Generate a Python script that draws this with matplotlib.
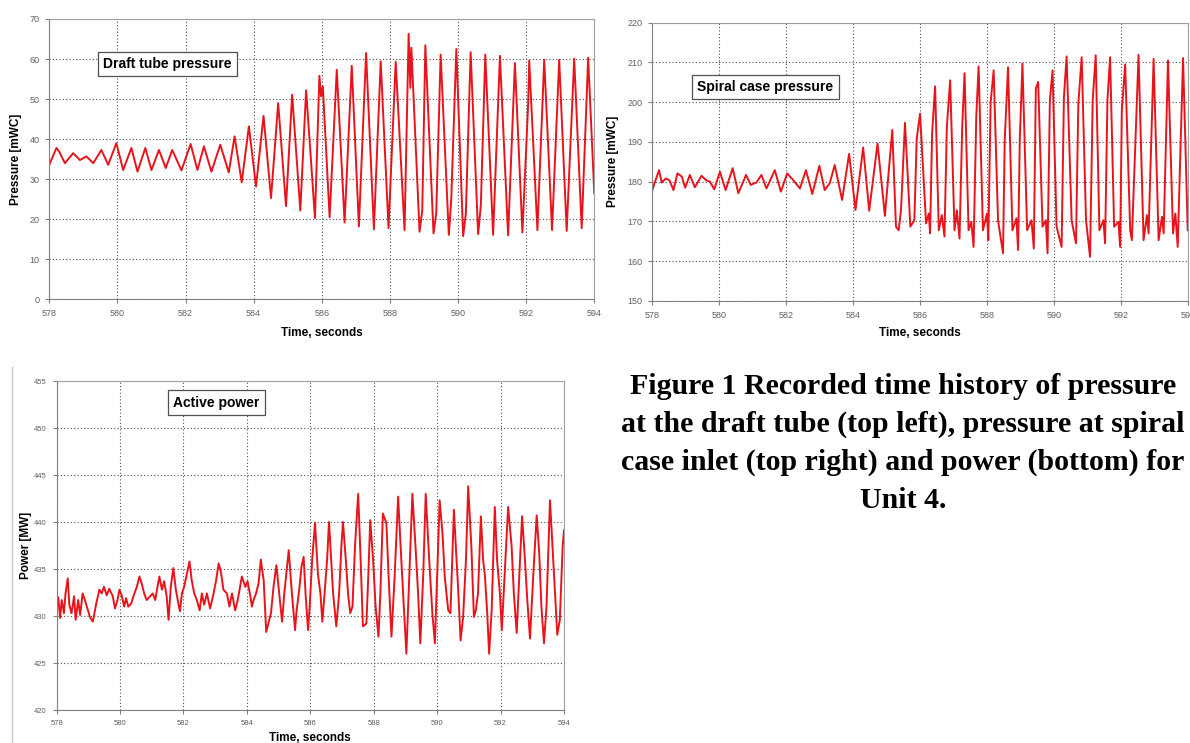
import matplotlib
matplotlib.use('Agg')
import matplotlib.pyplot as plt
from matplotlib.lines import Line2D

plt.rcParams['font.family'] = ['Liberation Sans', 'DejaVu Sans']

# DATA

# Draft tube pressure [mWC]
draft_t = [578.00, 578.21, 578.29, 578.46, 578.70, 578.90, 579.09, 579.29, 579.53, 579.73,
           579.97, 580.17, 580.41, 580.59, 580.82, 581.00, 581.22, 581.42, 581.61, 581.88,
           582.15, 582.35, 582.54, 582.76, 583.02, 583.27, 583.44, 583.65, 583.86, 584.07,
           584.29, 584.51, 584.72, 584.95, 585.13, 585.37, 585.54, 585.80, 585.93, 585.98,
           586.03, 586.23, 586.44, 586.67, 586.88, 587.09, 587.30, 587.53, 587.73, 587.96,
           588.17, 588.43, 588.55, 588.60, 588.63, 588.87, 588.95, 589.04, 589.28, 589.36,
           589.49, 589.73, 589.80, 589.95, 590.15, 590.23, 590.37, 590.59, 590.67, 590.80,
           591.03, 591.23, 591.47, 591.67, 591.89, 592.06, 592.09, 592.33, 592.53, 592.76,
           592.97, 593.19, 593.41, 593.63, 593.82, 594.00]
draft_p = [33.6, 37.8, 36.9, 34.0, 36.5, 34.8, 35.7, 34.0, 37.3, 33.6,
           39.0, 32.3, 37.8, 31.9, 37.8, 32.3, 37.3, 32.8, 37.3, 32.2,
           38.8, 32.3, 38.2, 31.9, 38.6, 31.7, 40.7, 29.2, 43.2, 28.2,
           45.8, 25.3, 49.0, 23.3, 51.1, 22.2, 52.2, 20.3, 55.8, 50.7,
           53.2, 20.5, 57.3, 19.2, 58.3, 18.2, 61.5, 17.5, 59.4, 17.8,
           59.3, 17.3, 66.3, 52.8, 62.8, 16.9, 22.2, 63.4, 16.5, 21.5,
           61.1, 16.1, 24.8, 62.5, 15.8, 21.5, 61.7, 16.3, 23.6, 61.1,
           16.1, 60.8, 16.0, 59.0, 16.7, 49.0, 59.6, 17.3, 59.8, 17.3,
           59.8, 17.1, 60.1, 17.8, 60.3, 26.5]

# Spiral case pressure [mWC]
spiral_t = [578.00, 578.08, 578.20, 578.28, 578.40, 578.51, 578.63, 578.75, 578.88, 578.98,
            579.12, 579.27, 579.47, 579.60, 579.72, 579.85, 580.02, 580.19, 580.40, 580.57,
            580.80, 580.94, 581.11, 581.26, 581.41, 581.66, 581.84, 582.03, 582.21, 582.41,
            582.59, 582.78, 582.99, 583.15, 583.30, 583.45, 583.67, 583.88, 584.07, 584.30,
            584.48, 584.73, 584.95, 585.17, 585.28, 585.36, 585.43, 585.55, 585.71, 585.83,
            585.90, 586.00, 586.18, 586.26, 586.30, 586.36, 586.45, 586.56, 586.65, 586.73,
            586.80, 586.90, 587.03, 587.10, 587.18, 587.26, 587.33, 587.45, 587.53, 587.60,
            587.68, 587.75, 587.88, 588.00, 588.04, 588.11, 588.20, 588.33, 588.48, 588.53,
            588.63, 588.76, 588.88, 588.93, 588.98, 589.06, 589.20, 589.33, 589.40, 589.46,
            589.53, 589.66, 589.76, 589.81, 589.88, 589.96, 590.08, 590.23, 590.30, 590.38,
            590.53, 590.66, 590.73, 590.83, 590.96, 591.08, 591.16, 591.25, 591.36, 591.48,
            591.53, 591.60, 591.68, 591.80, 591.93, 591.98, 592.03, 592.13, 592.28, 592.33,
            592.53, 592.68, 592.78, 592.83, 592.98, 593.13, 593.23, 593.28, 593.41, 593.56,
            593.63, 593.70, 593.86, 594.00]
spiral_p = [177.9, 180.0, 182.9, 179.8, 180.8, 180.4, 177.9, 182.1, 181.3, 178.5,
            181.7, 178.6, 181.5, 180.4, 180.0, 178.1, 182.5, 177.9, 183.4, 177.1,
            181.7, 179.2, 179.8, 181.7, 178.3, 182.9, 177.5, 182.1, 180.4, 178.3,
            182.9, 176.9, 184.0, 177.9, 179.6, 184.2, 175.4, 187.0, 172.9, 188.6,
            172.7, 189.6, 171.4, 193.0, 168.7, 167.8, 172.8, 194.8, 168.7, 170.3,
            190.8, 197.1, 169.5, 172.0, 167.0, 192.1, 204.0, 167.8, 171.6, 166.2,
            193.8, 205.5, 167.8, 172.8, 165.7, 193.8, 207.3, 167.8, 169.9, 163.6,
            196.3, 209.0, 167.8, 172.0, 165.3, 200.0, 208.0, 170.3, 162.0, 190.4,
            208.8, 167.8, 170.8, 162.8, 190.4, 209.7, 167.8, 170.3, 163.2, 203.4,
            205.1, 168.7, 170.3, 162.0, 200.5, 208.0, 168.7, 163.6, 201.3, 211.5,
            170.3, 164.5, 199.6, 211.3, 170.3, 161.1, 200.5, 211.8, 167.8, 170.3,
            164.5, 200.5, 211.3, 168.7, 169.9, 163.6, 197.9, 209.5, 167.8, 165.3,
            211.9, 165.3, 171.6, 167.0, 210.9, 165.3, 171.2, 167.0, 210.5, 167.0,
            172.0, 163.6, 211.1, 167.8]

# Active power [MW]
power_t = [578.00, 578.05, 578.11, 578.16, 578.23, 578.28, 578.35, 578.40, 578.47, 578.55,
           578.60, 578.68, 578.74, 578.82, 578.89, 578.97, 579.05, 579.14, 579.26, 579.35,
           579.42, 579.49, 579.58, 579.66, 579.77, 579.84, 579.92, 579.98, 580.05, 580.13,
           580.19, 580.26, 580.35, 580.42, 580.53, 580.61, 580.68, 580.76, 580.84, 580.95,
           581.03, 581.11, 581.18, 581.24, 581.32, 581.39, 581.47, 581.53, 581.60, 581.68,
           581.76, 581.84, 581.89, 581.95, 582.02, 582.11, 582.19, 582.26, 582.34, 582.42,
           582.51, 582.58, 582.65, 582.74, 582.84, 582.95, 583.03, 583.11, 583.18, 583.26,
           583.37, 583.45, 583.53, 583.63, 583.71, 583.77, 583.84, 583.95, 584.02, 584.11,
           584.16, 584.21, 584.29, 584.37, 584.44, 584.53, 584.61, 584.76, 584.84, 584.93,
           585.02, 585.11, 585.18, 585.32, 585.42, 585.52, 585.56, 585.66, 585.72, 585.79,
           585.85, 585.93, 585.98, 586.06, 586.15, 586.24, 586.32, 586.38, 586.45, 586.53,
           586.59, 586.66, 586.72, 586.82, 586.91, 586.98, 587.03, 587.12, 587.19, 587.26,
           587.33, 587.41, 587.51, 587.58, 587.66, 587.77, 587.84, 587.89, 587.98, 588.06,
           588.15, 588.21, 588.29, 588.40, 588.47, 588.56, 588.66, 588.77, 588.87, 588.96,
           589.03, 589.12, 589.22, 589.33, 589.40, 589.47, 589.56, 589.64, 589.75, 589.85,
           589.93, 590.01, 590.08, 590.17, 590.24, 590.35, 590.42, 590.53, 590.59, 590.66,
           590.74, 590.82, 590.91, 590.98, 591.08, 591.16, 591.22, 591.29, 591.38, 591.45,
           591.51, 591.58, 591.64, 591.72, 591.82, 591.89, 591.98, 592.04, 592.24, 592.35,
           592.42, 592.51, 592.59, 592.68, 592.77, 592.84, 592.93, 593.03, 593.14, 593.22,
           593.29, 593.37, 593.45, 593.56, 593.64, 593.72, 593.79, 593.87, 593.96, 594.00]
power_mw = [430.8, 432.0, 429.8, 431.7, 430.3, 432.4, 434.0, 431.2, 430.3, 432.1,
            429.6, 431.7, 430.1, 432.4, 431.7, 430.8, 429.9, 429.4, 431.5, 432.8,
            432.4, 433.1, 432.2, 432.9, 432.1, 430.8, 431.7, 432.8, 432.2, 431.0,
            431.9, 431.0, 431.3, 432.1, 433.1, 434.2, 433.5, 432.4, 431.7, 432.1,
            432.4, 431.7, 433.1, 434.2, 432.8, 433.7, 432.1, 429.6, 433.1, 435.1,
            432.8, 431.3, 430.5, 432.4, 433.1, 434.5, 435.8, 433.8, 432.4, 431.7,
            430.6, 432.4, 431.2, 432.4, 430.8, 432.4, 433.8, 435.6, 434.7, 432.8,
            432.4, 431.0, 432.4, 430.6, 431.7, 432.8, 434.2, 433.1, 433.7, 432.1,
            431.0, 431.7, 432.4, 433.5, 436.0, 433.8, 428.3, 430.3, 433.1, 435.4,
            432.4, 429.4, 432.4, 437.0, 432.4, 428.5, 430.3, 433.1, 435.2, 436.3,
            432.4, 428.5, 431.0, 436.0, 439.9, 434.5, 432.4, 429.4, 432.4, 436.0,
            440.0, 436.0, 432.4, 428.9, 432.4, 437.4, 440.0, 436.0, 432.4, 430.3,
            431.0, 437.4, 443.0, 436.7, 428.9, 429.2, 435.2, 440.2, 436.0, 431.0,
            427.8, 432.4, 440.9, 439.9, 434.2, 427.8, 434.2, 442.7, 436.0, 430.3,
            426.0, 434.2, 443.0, 436.7, 432.4, 427.1, 434.2, 443.0, 436.0, 430.3,
            427.1, 435.2, 442.3, 438.8, 434.2, 430.6, 430.3, 441.3, 437.4, 433.1,
            427.4, 429.9, 436.0, 443.8, 437.4, 429.9, 430.6, 432.4, 440.6, 436.0,
            434.2, 430.3, 426.0, 430.6, 441.6, 436.0, 432.4, 428.5, 441.6, 437.4,
            432.4, 428.2, 434.2, 440.6, 436.0, 431.9, 427.6, 434.2, 440.7, 436.7,
            431.0, 427.1, 431.0, 442.3, 437.4, 432.4, 428.0, 429.6, 437.4, 439.1]

caption_lines = ['Figure 1 Recorded time history of pressure',
                 'at the draft tube (top left), pressure at spiral',
                 'case inlet (top right) and power (bottom) for',
                 'Unit 4.']

line_color = '#e8141c'


# Excel-like styling for one panel
def style_axes(ax, ylim, ystep, ylabel, ylabel_x, xlabel_y, tick_size):
    ax.set_xlim(578, 594)
    ax.set_xticks(range(578, 595, 2))
    ax.set_ylim(*ylim)
    ax.set_yticks(range(ylim[0], ylim[1] + 1, ystep))
    ax.grid(True, color='#505050', linestyle=(0, (1, 2)), linewidth=0.8)
    ax.set_axisbelow(True)
    for s in ax.spines.values():
        s.set_color('#a0a0a0')
    ax.spines['left'].set_color('#808080')
    ax.spines['bottom'].set_color('#808080')
    ax.tick_params(direction='out', length=3, width=0.8, colors='#808080',
                   labelcolor='#606060', labelsize=tick_size, pad=4)
    ax.set_ylabel(ylabel, fontweight='bold', fontsize=8.5)
    ax.yaxis.set_label_coords(ylabel_x, 0.5)
    ax.set_xlabel('Time, seconds', fontweight='bold', fontsize=8.5)
    ax.xaxis.set_label_coords(0.5, xlabel_y)


def title_box(ax, x, y, text):
    ax.text(x, y, text, transform=ax.transAxes, ha='center', va='center',
            fontweight='bold', fontsize=10,
            bbox=dict(boxstyle='square,pad=0.38', fc='white', ec='#505050', lw=0.9))


fig = plt.figure(figsize=(11.9, 7.43), dpi=100)

# Graph 1: draft tube pressure
ax1 = fig.add_axes([0.0414, 0.597, 0.458, 0.3775])
ax1.plot(draft_t, draft_p, color=line_color, lw=1.4)
style_axes(ax1, (0, 70), 10, 'Pressure [mWC]', -0.050, -0.098, 6.5)
title_box(ax1, 0.217, 0.84, 'Draft tube pressure')

# Graph 2: spiral case pressure
ax2 = fig.add_axes([0.5482, 0.5949, 0.4499, 0.3746])
ax2.plot(spiral_t, spiral_p, color=line_color, lw=1.4)
style_axes(ax2, (150, 220), 10, 'Pressure [mWC]', -0.062, -0.095, 6.5)
title_box(ax2, 0.2114, 0.769, 'Spiral case pressure')

# Graph 3: active power
ax3 = fig.add_axes([0.0476, 0.0444, 0.4263, 0.4428])
ax3.plot(power_t, power_mw, color=line_color, lw=1.4)
style_axes(ax3, (420, 455), 5, 'Power [MW]', -0.049, -0.066, 5.5)
title_box(ax3, 0.315, 0.934, 'Active power')

# chart area border of the bottom chart
fig.add_artist(Line2D([12 / 1190, 12 / 1190], [0, 1 - 367 / 743], color='#c8c8c8', lw=1))

# Caption
for i, line in enumerate(caption_lines):
    fig.text(0.7588, 1 - (386 + 38 * i) / 743, line, ha='center', va='center',
             family='Liberation Serif', fontweight='bold', fontsize=21.5)

fig.savefig('out.png', dpi=100)
